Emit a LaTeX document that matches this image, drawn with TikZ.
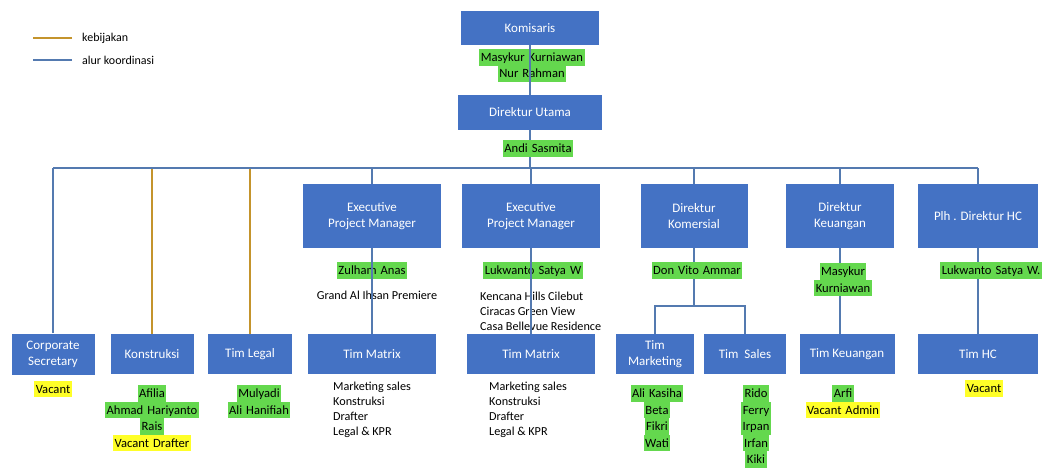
\documentclass[tikz,border=0pt]{standalone}
\usepackage{fontspec}
\setmainfont{Carlito}
\usepackage{tikz}
\usetikzlibrary{positioning,calc}

\definecolor{boxblue}{RGB}{68,114,196}
\definecolor{lineblue}{RGB}{84,122,176}
\definecolor{linegold}{RGB}{196,148,44}
\definecolor{hlgreen}{RGB}{100,216,78}
\definecolor{hlyellow}{RGB}{255,255,40}

\newcommand{\hlg}[1]{{\setlength{\fboxsep}{0pt}\colorbox{hlgreen}{\rule[-4.4pt]{0pt}{16.5pt}\kern1.5pt#1\kern1.5pt}}}
\newcommand{\hly}[1]{{\setlength{\fboxsep}{0pt}\colorbox{hlyellow}{\rule[-4.4pt]{0pt}{16.5pt}\kern1.5pt#1\kern1.5pt}}}
\newcommand{\namefont}{\fontsize{12.6}{16.5}\selectfont\setlength{\spaceskip}{4pt plus 1pt}}

\tikzstyle{unit_box} = [draw=none,
						fill=boxblue,
						text=white,
						align=center,
						inner sep=0pt,
						font=\fontsize{13}{16}\selectfont]
\tikzstyle{name_list} = [align=center,
						 inner sep=0pt,
						 font=\namefont]
\tikzstyle{plain_list} = [align=left,
						  inner sep=0pt,
						  anchor=north west,
						  font=\fontsize{12.2}{15}\selectfont]
\tikzstyle{legend_text} = [anchor=west,
						   inner sep=0pt,
						   font=\fontsize{12}{14}\selectfont]
\tikzstyle{coord_line} = [draw=lineblue, line width=1.5pt]
\tikzstyle{policy_line} = [draw=linegold, line width=1.5pt]

\begin{document}
\begin{tikzpicture}[x=1pt, y=-1pt]
	\useasboundingbox (0,0) rectangle (1042,468);

	% legend
	\node[legend_text] (legpol) at (82,38) {kebijakan};
	\node[legend_text] (legcoord) at (82,60) {alur koordinasi};
	\draw[policy_line, line width=2.5pt] ([xshift=-10pt]legpol.west) -- ++(-39,0);
	\draw[coord_line, line width=2.5pt] ([xshift=-10pt]legcoord.west) -- ++(-39,0);

	%%%%%%%%%%%
	% TOP     %
	%%%%%%%%%%%
	\node[unit_box, minimum width=138pt, minimum height=34pt] (kom) at (530,28) {Komisaris};
	\node[unit_box, minimum width=144pt, minimum height=35pt] (dirut) at (530,112.5) {Direktur Utama};

	%%%%%%%%%%%
	% ROW 2   %
	%%%%%%%%%%%
	\node[unit_box, minimum width=138pt, minimum height=64pt] (epm1) at (372,216) {Executive\\Project Manager};
	\node[unit_box, minimum width=138pt, minimum height=64pt] (epm2) at (531,216) {Executive\\Project Manager};
	\node[unit_box, minimum width=107pt, minimum height=64pt] (dkom) at (694,216) {Direktur\\Komersial};
	\node[unit_box, minimum width=108pt, minimum height=64pt] (dkeu) at (840,216) {Direktur\\Keuangan};
	\node[unit_box, minimum width=120pt, minimum height=64pt] (plh) at (978,216) {Plh . Direktur HC};

	%%%%%%%%%%%
	% ROW 3   %
	%%%%%%%%%%%
	\node[unit_box, minimum width=83pt, minimum height=41pt] (csec) at (53,354) {Corporate\\Secretary};
	\node[unit_box, minimum width=83pt, minimum height=40pt] (kons) at (152,354) {Konstruksi};
	\node[unit_box, minimum width=84pt, minimum height=40pt] (legal) at (250,354) {Tim Legal};
	\node[unit_box, minimum width=128pt, minimum height=40pt] (tm1) at (372,354) {Tim Matrix};
	\node[unit_box, minimum width=128pt, minimum height=40pt] (tm2) at (531,354) {Tim Matrix};
	\node[unit_box, minimum width=78pt, minimum height=40pt] (tmkt) at (655,354) {Tim\\Marketing};
	\node[unit_box, minimum width=82pt, minimum height=40pt] (tsal) at (745,354) {Tim\ \ Sales};
	\node[unit_box, minimum width=95pt, minimum height=40pt] (tkeu) at (847,354) {Tim Keuangan};
	\node[unit_box, minimum width=120pt, minimum height=40pt] (thc) at (978,354) {Tim HC};

	% connectors under the names
	\coordinate (busl) at (csec.north |- 0,168);
	\coordinate (busr) at (plh.north |- 0,168);
	\draw[coord_line] (dirut.south) -- (dirut.south |- busl);
	\draw[policy_line] (kons.north) -- (kons.north |- busl);
	\draw[policy_line] (legal.north) -- (legal.north |- busl);
	\draw[coord_line] (busl) -- (busr);
	\draw[coord_line] (csec.north) -- (busl);
	\draw[coord_line] (epm1.north) -- (epm1.north |- busl);
	\draw[coord_line] (epm2.north) -- (epm2.north |- busl);
	\draw[coord_line] (dkom.north) -- (dkom.north |- busl);
	\draw[coord_line] (dkeu.north) -- (dkeu.north |- busl);
	\draw[coord_line] (plh.north) -- (busr);
	\draw[coord_line] (dkom.south) -- ++(0,58) coordinate (kombr);
	\draw[coord_line] (tmkt.north) |- (kombr) -| (tsal.north);
	\draw[coord_line] (dkeu.south) -- (dkeu.south |- tkeu.north);
	\draw[coord_line] (plh.south) -- (thc.north);

	% names
	\node[name_list, below=4pt of kom, xshift=2pt] (komnames) {\hlg{Masykur Kurniawan}\\\hlg{Nur Rahman}};
	\node[name_list, below=10pt of dirut, xshift=8pt] (dirutname) {\hlg{Andi Sasmita}};
	\node[name_list, below=14pt of epm1] (epm1name) {\hlg{Zulham Anas}};
	\node[name_list, below=14pt of epm2, xshift=2pt] (epm2name) {\hlg{Lukwanto Satya W}};
	\node[name_list, below=14pt of dkom, xshift=3pt] (dkomname) {\hlg{Don Vito Ammar}};
	\node[name_list, below=15pt of dkeu, xshift=3pt] (dkeunames) {\hlg{Masykur}\\\hlg{Kurniawan}};
	\node[name_list, below=14pt of plh, xshift=13pt] (plhname) {\hlg{Lukwanto Satya W.}};

	\node[plain_list, anchor=north, below=12pt of epm1name, xshift=5pt] (epm1proj) {Grand Al Ihsan Premiere};
	\node[plain_list] (epm2proj) at (480,292) {Kencana Hills Cilebut\\Ciracas Green View\\Casa Bellevue Residence};

	\node[name_list, below=6pt of csec] (csecname) {\hly{Vacant}};
	\node[name_list, below=11pt of kons] (konsnames) {\hlg{Afilia}\\\hlg{Ahmad\ Hariyanto}\\\hlg{Rais}\\\hly{Vacant Drafter}};
	\node[name_list, below=11pt of legal, xshift=9pt] (legalnames) {\hlg{Mulyadi}\\\hlg{Ali Hanifiah}};
	\node[plain_list] (tm1list) at (333,382) {Marketing sales\\Konstruksi\\Drafter\\Legal \& KPR};
	\node[plain_list] (tm2list) at (489,382) {Marketing sales\\Konstruksi\\Drafter\\Legal \& KPR};
	\node[name_list, below=11pt of tmkt, xshift=2pt] (tmktnames) {\hlg{Ali Kasiha}\\\hlg{Beta}\\\hlg{Fikri}\\\hlg{Wati}};
	\node[name_list, below=11pt of tsal, xshift=11pt] (tsalnames) {\hlg{Rido}\\\hlg{Ferry}\\\hlg{Irpan}\\\hlg{Irfan}\\\hlg{Kiki}};
	\node[name_list, below=11pt of tkeu, xshift=-4pt] (tkeunames) {\hlg{Arfi}\\\hly{Vacant Admin}};
	\node[name_list, below=6pt of thc, xshift=6pt] (thcname) {\hly{Vacant}};

	% connectors over the names
	\draw[coord_line] (kom.south) -- (dirut.north);
	\draw[coord_line] (epm1.south) -- (tm1.north);
	\draw[coord_line] (epm2.south) -- (tm2.north);
\end{tikzpicture}
\end{document}
